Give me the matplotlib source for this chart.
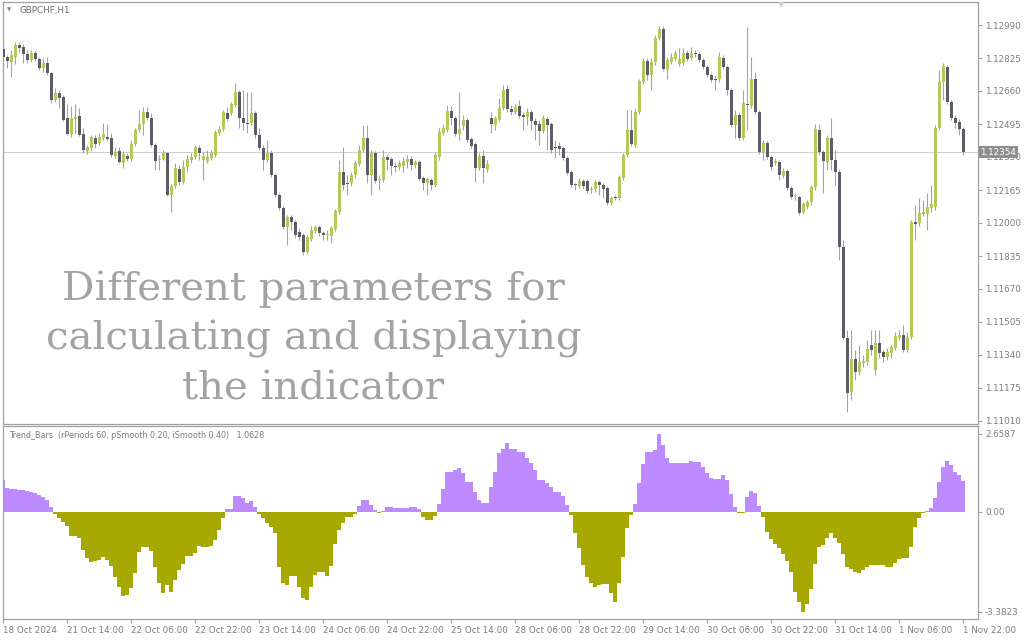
import matplotlib
matplotlib.use("Agg")
import matplotlib.pyplot as plt
import matplotlib.transforms as mtransforms
import numpy as np

# ---------------- data ----------------
opens = [
    1.12870, 1.12830, 1.12805, 1.12830, 1.12890, 1.12880, 1.12845, 1.12815, 1.12850, 1.12820,
    1.12775, 1.12800, 1.12750, 1.12615, 1.12650, 1.12630, 1.12525, 1.12445, 1.12520, 1.12535,
    1.12445, 1.12360, 1.12375, 1.12425, 1.12400, 1.12425, 1.12430, 1.12425, 1.12335, 1.12360,
    1.12300, 1.12335, 1.12320, 1.12395, 1.12465, 1.12495, 1.12555, 1.12525, 1.12390, 1.12315,
    1.12320, 1.12350, 1.12140, 1.12185, 1.12270, 1.12205, 1.12280, 1.12315, 1.12330, 1.12375,
    1.12315, 1.12310, 1.12325, 1.12340, 1.12450, 1.12470, 1.12550, 1.12550, 1.12590, 1.12655,
    1.12525, 1.12500, 1.12500, 1.12550, 1.12440, 1.12375, 1.12315, 1.12350, 1.12240, 1.12140,
    1.12075, 1.11980, 1.12030, 1.12005, 1.11955, 1.11940, 1.11855, 1.11920, 1.11960, 1.11980,
    1.11950, 1.11940, 1.11935, 1.11970, 1.12055, 1.12255, 1.12200, 1.12200, 1.12240, 1.12295,
    1.12365, 1.12425, 1.12240, 1.12350, 1.12215, 1.12215, 1.12330, 1.12320, 1.12285, 1.12280,
    1.12285, 1.12305, 1.12320, 1.12290, 1.12305, 1.12225, 1.12200, 1.12215, 1.12190, 1.12330,
    1.12450, 1.12465, 1.12560, 1.12525, 1.12445, 1.12485, 1.12515, 1.12420, 1.12395, 1.12275,
    1.12335, 1.12270, 1.12525, 1.12490, 1.12515, 1.12575, 1.12670, 1.12570, 1.12555, 1.12585,
    1.12540, 1.12530, 1.12555, 1.12510, 1.12495, 1.12460, 1.12520, 1.12495, 1.12380, 1.12385,
    1.12375, 1.12325, 1.12255, 1.12190, 1.12185, 1.12210, 1.12210, 1.12165, 1.12170, 1.12205,
    1.12190, 1.12175, 1.12100, 1.12125, 1.12125, 1.12225, 1.12340, 1.12465, 1.12390, 1.12555,
    1.12705, 1.12810, 1.12740, 1.12805, 1.12925, 1.12970, 1.12770, 1.12805, 1.12820, 1.12795,
    1.12800, 1.12850, 1.12825, 1.12850, 1.12845, 1.12815, 1.12780, 1.12740, 1.12715, 1.12720,
    1.12825, 1.12780, 1.12665, 1.12490, 1.12540, 1.12425, 1.12595, 1.12585, 1.12720, 1.12555,
    1.12355, 1.12400, 1.12330, 1.12300, 1.12305, 1.12235, 1.12260, 1.12175, 1.12133, 1.12130,
    1.12055, 1.12080, 1.12105, 1.12180, 1.12465, 1.12355, 1.12305, 1.12425, 1.12315, 1.12255,
    1.11880, 1.11425, 1.11155, 1.11320, 1.11255, 1.11300, 1.11305, 1.11390, 1.11265, 1.11400,
    1.11355, 1.11330, 1.11350, 1.11375, 1.11425, 1.11440, 1.11365, 1.11430, 1.12005, 1.12000,
    1.12045, 1.12045, 1.12075, 1.12080, 1.12475, 1.12705, 1.12780, 1.12605, 1.12525, 1.12505,
    1.12470,
]
highs = [
    1.12890, 1.12840, 1.12865, 1.12905, 1.12905, 1.12895, 1.12865, 1.12865, 1.12865, 1.12830,
    1.12825, 1.12830, 1.12755, 1.12675, 1.12665, 1.12640, 1.12595, 1.12585, 1.12595, 1.12575,
    1.12475, 1.12390, 1.12440, 1.12440, 1.12450, 1.12500, 1.12495, 1.12450, 1.12380, 1.12380,
    1.12360, 1.12350, 1.12415, 1.12475, 1.12565, 1.12580, 1.12580, 1.12550, 1.12400, 1.12340,
    1.12365, 1.12355, 1.12195, 1.12300, 1.12290, 1.12315, 1.12340, 1.12350, 1.12390, 1.12390,
    1.12355, 1.12365, 1.12365, 1.12465, 1.12485, 1.12565, 1.12580, 1.12605, 1.12700, 1.12665,
    1.12665, 1.12655, 1.12655, 1.12560, 1.12475, 1.12390, 1.12415, 1.12365, 1.12250, 1.12150,
    1.12085, 1.12040, 1.12040, 1.12015, 1.11975, 1.11950, 1.11940, 1.11985, 1.11990, 1.11990,
    1.11960, 1.11965, 1.11985, 1.12070, 1.12315, 1.12380, 1.12240, 1.12255, 1.12315, 1.12390,
    1.12490, 1.12490, 1.12365, 1.12360, 1.12240, 1.12365, 1.12345, 1.12330, 1.12305, 1.12315,
    1.12330, 1.12340, 1.12335, 1.12315, 1.12315, 1.12235, 1.12230, 1.12225, 1.12355, 1.12475,
    1.12495, 1.12590, 1.12585, 1.12535, 1.12655, 1.12540, 1.12525, 1.12430, 1.12405, 1.12350,
    1.12365, 1.12315, 1.12555, 1.12535, 1.12625, 1.12690, 1.12690, 1.12590, 1.12595, 1.12615,
    1.12555, 1.12575, 1.12565, 1.12525, 1.12515, 1.12540, 1.12530, 1.12505, 1.12415, 1.12405,
    1.12385, 1.12335, 1.12265, 1.12200, 1.12225, 1.12220, 1.12220, 1.12185, 1.12215, 1.12215,
    1.12200, 1.12185, 1.12135, 1.12140, 1.12240, 1.12350, 1.12565, 1.12565, 1.12575, 1.12720,
    1.12825, 1.12825, 1.12825, 1.12940, 1.12985, 1.12985, 1.12830, 1.12850, 1.12865, 1.12875,
    1.12875, 1.12865, 1.12880, 1.12865, 1.12855, 1.12825, 1.12790, 1.12750, 1.12740, 1.12855,
    1.12840, 1.12790, 1.12675, 1.12565, 1.12555, 1.12665, 1.12980, 1.12830, 1.12755, 1.12565,
    1.12415, 1.12410, 1.12340, 1.12325, 1.12315, 1.12275, 1.12270, 1.12185, 1.12150, 1.12140,
    1.12105, 1.12115, 1.12190, 1.12495, 1.12495, 1.12365, 1.12440, 1.12525, 1.12365, 1.12265,
    1.11915, 1.11465, 1.11465, 1.11365, 1.11390, 1.11340, 1.11415, 1.11465, 1.11465, 1.11465,
    1.11365, 1.11375, 1.11395, 1.11455, 1.11465, 1.11490, 1.11455, 1.12015, 1.12090, 1.12125,
    1.12115, 1.12150, 1.12190, 1.12490, 1.12765, 1.12800, 1.12790, 1.12615, 1.12540, 1.12520,
    1.12480,
]
lows = [
    1.12825, 1.12775, 1.12730, 1.12795, 1.12855, 1.12800, 1.12800, 1.12805, 1.12810, 1.12765,
    1.12755, 1.12740, 1.12600, 1.12605, 1.12575, 1.12510, 1.12440, 1.12430, 1.12450, 1.12435,
    1.12350, 1.12345, 1.12360, 1.12375, 1.12390, 1.12415, 1.12410, 1.12330, 1.12325, 1.12300,
    1.12275, 1.12310, 1.12310, 1.12385, 1.12455, 1.12440, 1.12515, 1.12380, 1.12265, 1.12265,
    1.12315, 1.12135, 1.12055, 1.12175, 1.12190, 1.12195, 1.12255, 1.12300, 1.12320, 1.12315,
    1.12215, 1.12300, 1.12315, 1.12330, 1.12440, 1.12460, 1.12510, 1.12540, 1.12580, 1.12475,
    1.12465, 1.12450, 1.12490, 1.12425, 1.12365, 1.12265, 1.12305, 1.12230, 1.12130, 1.12065,
    1.11970, 1.11890, 1.11965, 1.11925, 1.11915, 1.11840, 1.11845, 1.11910, 1.11950, 1.11935,
    1.11915, 1.11915, 1.11900, 1.11960, 1.12045, 1.12165, 1.12140, 1.12185, 1.12225, 1.12285,
    1.12355, 1.12200, 1.12140, 1.12200, 1.12165, 1.12205, 1.12265, 1.12240, 1.12255, 1.12265,
    1.12255, 1.12275, 1.12265, 1.12275, 1.12210, 1.12165, 1.12140, 1.12165, 1.12180, 1.12315,
    1.12440, 1.12455, 1.12490, 1.12435, 1.12415, 1.12465, 1.12405, 1.12375, 1.12205, 1.12265,
    1.12200, 1.12255, 1.12450, 1.12465, 1.12505, 1.12565, 1.12555, 1.12540, 1.12545, 1.12525,
    1.12465, 1.12490, 1.12465, 1.12415, 1.12390, 1.12450, 1.12365, 1.12350, 1.12325, 1.12340,
    1.12315, 1.12240, 1.12180, 1.12165, 1.12175, 1.12170, 1.12150, 1.12150, 1.12155, 1.12140,
    1.12125, 1.12090, 1.12090, 1.12115, 1.12115, 1.12215, 1.12330, 1.12385, 1.12380, 1.12545,
    1.12695, 1.12715, 1.12665, 1.12790, 1.12915, 1.12760, 1.12720, 1.12795, 1.12810, 1.12785,
    1.12790, 1.12810, 1.12815, 1.12830, 1.12805, 1.12770, 1.12730, 1.12705, 1.12665, 1.12705,
    1.12770, 1.12640, 1.12480, 1.12425, 1.12415, 1.12415, 1.12465, 1.12575, 1.12545, 1.12345,
    1.12315, 1.12320, 1.12265, 1.12290, 1.12215, 1.12225, 1.12165, 1.12120, 1.12115, 1.12040,
    1.12045, 1.12070, 1.12090, 1.12165, 1.12340, 1.12150, 1.12265, 1.12265, 1.12190, 1.11815,
    1.11415, 1.11055, 1.11115, 1.11215, 1.11240, 1.11280, 1.11290, 1.11340, 1.11240, 1.11325,
    1.11305, 1.11315, 1.11325, 1.11365, 1.11415, 1.11355, 1.11355, 1.11420, 1.11915, 1.11985,
    1.12035, 1.11965, 1.12055, 1.12065, 1.12465, 1.12615, 1.12595, 1.12515, 1.12475, 1.12440,
    1.12340,
]
closes = [
    1.12830, 1.12810, 1.12840, 1.12890, 1.12875, 1.12845, 1.12815, 1.12850, 1.12820, 1.12775,
    1.12800, 1.12750, 1.12615, 1.12650, 1.12625, 1.12515, 1.12445, 1.12525, 1.12530, 1.12440,
    1.12365, 1.12380, 1.12430, 1.12395, 1.12430, 1.12445, 1.12420, 1.12340, 1.12355, 1.12305,
    1.12345, 1.12320, 1.12395, 1.12465, 1.12495, 1.12555, 1.12525, 1.12390, 1.12310, 1.12320,
    1.12350, 1.12140, 1.12185, 1.12275, 1.12205, 1.12280, 1.12320, 1.12330, 1.12380, 1.12350,
    1.12335, 1.12330, 1.12350, 1.12455, 1.12470, 1.12555, 1.12520, 1.12595, 1.12655, 1.12525,
    1.12500, 1.12495, 1.12550, 1.12440, 1.12375, 1.12315, 1.12350, 1.12240, 1.12140, 1.12075,
    1.11980, 1.12030, 1.12005, 1.11940, 1.11930, 1.11855, 1.11930, 1.11965, 1.11980, 1.11950,
    1.11940, 1.11945, 1.11975, 1.12060, 1.12255, 1.12190, 1.12195, 1.12240, 1.12300, 1.12365,
    1.12425, 1.12240, 1.12350, 1.12210, 1.12220, 1.12330, 1.12315, 1.12285, 1.12280, 1.12300,
    1.12310, 1.12320, 1.12290, 1.12305, 1.12220, 1.12200, 1.12220, 1.12190, 1.12340, 1.12455,
    1.12475, 1.12560, 1.12525, 1.12445, 1.12470, 1.12515, 1.12415, 1.12385, 1.12275, 1.12335,
    1.12275, 1.12295, 1.12495, 1.12525, 1.12575, 1.12665, 1.12570, 1.12555, 1.12580, 1.12535,
    1.12530, 1.12555, 1.12510, 1.12490, 1.12460, 1.12525, 1.12490, 1.12365, 1.12375, 1.12370,
    1.12325, 1.12250, 1.12190, 1.12188, 1.12210, 1.12185, 1.12160, 1.12170, 1.12205, 1.12190,
    1.12170, 1.12100, 1.12125, 1.12123, 1.12230, 1.12340, 1.12465, 1.12395, 1.12555, 1.12710,
    1.12810, 1.12740, 1.12805, 1.12925, 1.12970, 1.12770, 1.12815, 1.12830, 1.12850, 1.12820,
    1.12850, 1.12820, 1.12850, 1.12845, 1.12815, 1.12780, 1.12740, 1.12715, 1.12713, 1.12830,
    1.12780, 1.12665, 1.12490, 1.12540, 1.12425, 1.12600, 1.12590, 1.12720, 1.12555, 1.12355,
    1.12400, 1.12330, 1.12280, 1.12310, 1.12240, 1.12260, 1.12175, 1.12130, 1.12135, 1.12050,
    1.12095, 1.12105, 1.12180, 1.12470, 1.12355, 1.12310, 1.12425, 1.12315, 1.12255, 1.11880,
    1.11425, 1.11150, 1.11320, 1.11255, 1.11305, 1.11310, 1.11370, 1.11365, 1.11400, 1.11350,
    1.11330, 1.11355, 1.11380, 1.11435, 1.11440, 1.11365, 1.11430, 1.12005, 1.11995, 1.12050,
    1.12055, 1.12080, 1.12095, 1.12475, 1.12705, 1.12785, 1.12605, 1.12525, 1.12500, 1.12470,
    1.12354,
]
trend = [
    1.08, 0.80, 0.79, 0.78, 0.76, 0.74, 0.72, 0.69, 0.63, 0.56,
    0.50, 0.42, 0.16, -0.07, -0.21, -0.35, -0.47, -0.81, -0.83, -0.89,
    -1.29, -1.57, -1.68, -1.66, -1.62, -1.54, -1.62, -1.83, -2.19, -2.53,
    -2.85, -2.83, -2.59, -2.08, -1.34, -1.18, -1.20, -1.31, -1.85, -2.42,
    -2.76, -2.47, -2.70, -2.31, -1.97, -1.76, -1.49, -1.49, -1.40, -1.15,
    -1.20, -1.18, -1.15, -0.95, -0.61, -0.21, 0.09, 0.09, 0.54, 0.54,
    0.46, 0.29, 0.38, 0.16, -0.07, -0.21, -0.38, -0.50, -0.72, -1.85,
    -2.42, -2.47, -2.17, -2.17, -2.53, -2.93, -2.98, -2.53, -2.14, -2.02,
    -2.02, -2.17, -1.83, -1.08, -0.61, -0.38, -0.18, -0.18, -0.07, 0.20,
    0.41, 0.41, 0.24, 0.07, -0.02, 0.05, 0.16, 0.16, 0.12, 0.12,
    0.14, 0.14, 0.16, 0.16, 0.09, -0.16, -0.27, -0.27, -0.14, 0.27,
    0.77, 1.37, 1.37, 1.42, 1.48, 1.33, 1.03, 1.03, 0.69, 0.41,
    0.32, 0.32, 0.86, 1.37, 1.99, 2.12, 2.33, 2.12, 2.12, 2.02,
    2.02, 1.82, 1.65, 1.42, 1.08, 1.08, 0.97, 0.84, 0.69, 0.69,
    0.54, 0.24, -0.10, -0.70, -1.23, -1.80, -2.19, -2.42, -2.53, -2.47,
    -2.45, -2.45, -2.73, -3.04, -2.42, -1.54, -0.55, -0.10, 0.27, 0.97,
    1.63, 2.02, 2.02, 2.10, 2.6587, 2.27, 1.82, 1.67, 1.65, 1.67,
    1.67, 1.65, 1.74, 1.71, 1.71, 1.54, 1.31, 1.14, 1.11, 1.11,
    1.25, 1.08, 0.61, 0.16, -0.05, -0.05, 0.52, 0.71, 0.63, 0.20,
    -0.16, -0.67, -0.93, -1.08, -1.23, -1.42, -1.65, -2.02, -2.70, -3.04,
    -3.3823, -3.12, -2.62, -1.76, -1.18, -1.12, -0.89, -0.72, -0.89, -1.06,
    -1.42, -1.85, -1.94, -2.02, -2.08, -1.97, -1.85, -1.80, -1.80, -1.81,
    -1.80, -1.85, -1.85, -1.74, -1.60, -1.57, -1.57, -1.18, -0.52, -0.21,
    -0.05, 0.05, 0.12, 0.46, 1.03, 1.54, 1.74, 1.59, 1.37, 1.25,
    1.0628,
]
time_labels = ["18 Oct 2024", "21 Oct 14:00", "22 Oct 06:00", "22 Oct 22:00",
               "23 Oct 14:00", "24 Oct 06:00", "24 Oct 22:00", "25 Oct 14:00",
               "28 Oct 06:00", "28 Oct 22:00", "29 Oct 14:00", "30 Oct 06:00",
               "30 Oct 22:00", "31 Oct 14:00", "1 Nov 06:00", "1 Nov 22:00"]
time_label_bars = [0, 16, 32, 48, 64, 80, 96, 112, 128, 144, 160, 176, 192, 208, 224, 240]
price_ticks = [1.12990, 1.12825, 1.12660, 1.12495, 1.12330, 1.12165, 1.12000,
               1.11835, 1.11670, 1.11505, 1.11340, 1.11175, 1.11010]
last_price = 1.12354
ind_ticks = [2.6587, 0.0, -3.3823]
ind_tick_labels = ["2.6587", "0.00", "-3.3823"]
symbol_title = "GBPCHF,H1"
ind_title = "Trend_Bars  (rPeriods 60, pSmooth 0.20, iSmooth 0.40)   1.0628"
watermark = "Different parameters for\ncalculating and displaying\nthe indicator"

# ---------------- style ----------------
GREEN = "#b7c75c"
DARK = "#5f5b66"
WICK = "#a4a4a4"
PURPLE = "#bd8bff"
OLIVE = "#a6a800"
BORDER = "#a0a0a0"
TXT = "#7c7c7c"

W, H = 1024, 640
fig = plt.figure(figsize=(W / 100, H / 100), dpi=100)
fig.patch.set_facecolor("white")


def rect(x0, y0, x1, y1):
    return [x0 / W, 1 - y1 / H, (x1 - x0) / W, (y1 - y0) / H]


ax = fig.add_axes(rect(2.5, 2, 978, 424))
ax2 = fig.add_axes(rect(2.5, 426, 978, 619))

n = len(closes)
x = np.arange(n)
o = np.array(opens)
c = np.array(closes)
hi = np.array(highs)
lo = np.array(lows)
up = c >= o

# price line
ax.axhline(last_price, color="#cfcfcf", lw=0.8, zorder=1)

ax.vlines(x, lo, hi, color=WICK, lw=0.8, zorder=2)
bottom = np.minimum(o, c)
height = np.maximum(np.abs(c - o), 0.00005)
ax.bar(x[up], height[up], bottom=bottom[up], width=0.75, color=GREEN, linewidth=0, zorder=3)
ax.bar(x[~up], height[~up], bottom=bottom[~up], width=0.75, color=DARK, linewidth=0, zorder=3)

ax.set_xlim(-0.2, 243.7)
ax.set_ylim(1.10995, 1.13105)
ax.set_xticks([])
ax.yaxis.tick_right()
ax.set_yticks(price_ticks)
ax.set_yticklabels([f"{p:.5f}" for p in price_ticks])
ax.tick_params(axis="y", length=3, width=0.8, color=BORDER, labelsize=6.3,
               labelcolor=TXT, pad=2)
for s in ax.spines.values():
    s.set_color(BORDER)
    s.set_linewidth(0.9)

trans = mtransforms.blended_transform_factory(ax.transAxes, ax.transData)
ax.text(1.0025, last_price, f"{last_price:.5f}", transform=trans, ha="left", va="center",
        fontsize=6.3, color="white", zorder=10, clip_on=False,
        bbox=dict(boxstyle="square,pad=0.18", fc="#8e8e8e", ec="none"))

ax.text(311 / 975.5, 1 - (339 - 2) / 422, watermark, transform=ax.transAxes,
        ha="center", va="center", fontsize=29, color="#a3a3a3",
        family="DejaVu Serif", linespacing=1.42, zorder=5)

fig.text(20 / W, 1 - 10 / H, symbol_title, fontsize=6.3, color="#6e6e6e", va="center")
fig.text(9 / W, 1 - 10 / H, "\u25bc", fontsize=4, color="#8a8a8a", va="center", ha="center")
fig.text(781 / W, 1 - 5 / H, "\u25bc", fontsize=6, color="#cdcdcd", va="center", ha="center")

# indicator
tv = np.array(trend)
cols = [PURPLE if v >= 0 else OLIVE for v in tv]
ax2.bar(x, tv, width=1.0, color=cols, linewidth=0, zorder=2)
ax2.set_xlim(-0.2, 243.7)
ax2.set_ylim(-3.627, 2.915)
ax2.yaxis.tick_right()
ax2.set_yticks(ind_ticks)
ax2.set_yticklabels(ind_tick_labels)
ax2.tick_params(axis="y", length=3, width=0.8, color=BORDER, labelsize=6.3,
                labelcolor=TXT, pad=2)
ax2.set_xticks(time_label_bars)
ax2.set_xticklabels(time_labels, ha="left")
ax2.tick_params(axis="x", length=3, width=0.8, color=BORDER, labelsize=6.3,
                labelcolor=TXT, pad=2)
for lbl in ax2.get_xticklabels():
    lbl.set_horizontalalignment("left")
for s in ax2.spines.values():
    s.set_color(BORDER)
    s.set_linewidth(0.9)
ax2.text(7 / 975.5, 1 - 9 / 193, ind_title, transform=ax2.transAxes, fontsize=5.8,
         color=TXT, va="center", ha="left")

fig.savefig("out.png", dpi=100, facecolor="white")
